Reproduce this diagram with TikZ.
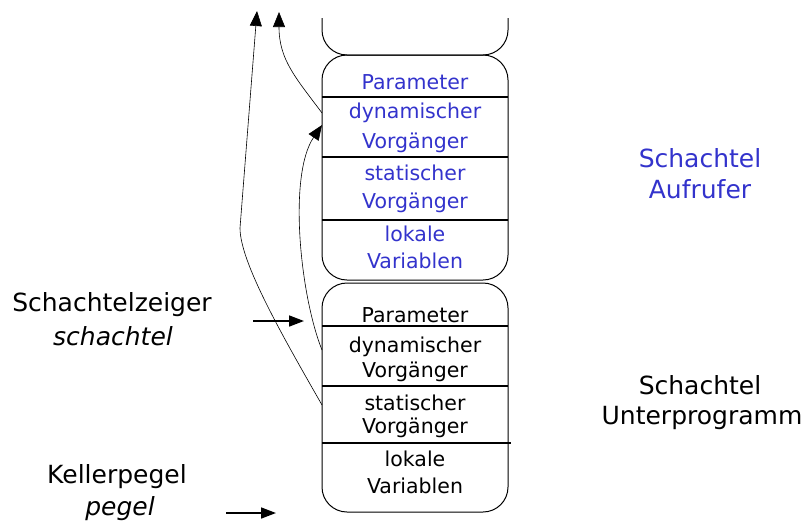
\documentclass[tikz,border=0pt]{standalone}
\usepackage{fontspec}
\setmainfont{DejaVu Sans}
\usetikzlibrary{arrows.meta}
\definecolor{cblue}{RGB}{51,51,204}
\begin{document}
\begin{tikzpicture}[x=1pt,y=-1pt,
  frame/.style={draw, line width=1pt, rounded corners=25pt, minimum width=186pt, inner sep=0pt},
  sep/.style={line width=1.8pt},
  lbl/.style={font=\fontsize{20.5}{24}\selectfont, inner sep=0pt},
  side/.style={font=\fontsize{25}{29}\selectfont, inner sep=0pt},
  arr/.style={-{Triangle[length=15pt,width=12pt]}, line width=0.6pt},
  harr/.style={-{Triangle[length=15pt,width=11pt]}, line width=1.6pt}
]
\useasboundingbox (0,0) rectangle (805,523);
% partial frame above
\draw[line width=1pt, rounded corners=25pt] (322,18) -- (322,55) -- (508,55) -- (508,18);
% upper frame (caller)
\node[frame, minimum height=225pt] (upper) at (415,167.5) {};
\draw[sep] (322,97) -- (508,97);
\draw[sep] (322,157) -- (508,157);
\draw[sep] (322,220) -- (508,220);
\node[lbl, text=cblue] (uparam) at (415,82) {Parameter};
\node[lbl, text=cblue] (udyn1) at (415,113) {dynamischer};
\node[lbl, text=cblue] (udyn2) at (415,143) {Vorgänger};
\node[lbl, text=cblue] (ustat1) at (415,173) {statischer};
\node[lbl, text=cblue] (ustat2) at (415,203) {Vorgänger};
\node[lbl, text=cblue] (ulok1) at (415,234) {lokale};
\node[lbl, text=cblue] (ulok2) at (415,261) {Variablen};
% lower frame (subprogram)
\node[frame, minimum height=229pt] (lower) at (415,397.5) {};
\draw[sep] (322,326) -- (508,326);
\draw[sep] (322,386) -- (508,386);
\draw[sep] (322,443) -- (511,443);
\node[lbl] (lparam) at (415,315) {Parameter};
\node[lbl] (ldyn1) at (415,347) {dynamischer};
\node[lbl] (ldyn2) at (415,372) {Vorgänger};
\node[lbl] (lstat1) at (415,403) {statischer};
\node[lbl] (lstat2) at (415,428) {Vorgänger};
\node[lbl] (llok1) at (415,459) {lokale};
\node[lbl] (llok2) at (415,486) {Variablen};
% side labels
\node[side] (sz) at (112,305) {Schachtelzeiger};
\node[side] (szi) at (113,336) {\itshape schachtel};
\node[side] (kp) at (117,477) {Kellerpegel};
\node[side] (kpi) at (120,509) {\itshape pegel};
\node[side, text=cblue] (sa1) at (700,158) {Schachtel};
\node[side, text=cblue] (sa2) at (700,189) {Aufrufer};
\node[side] (su1) at (700,385) {Schachtel};
\node[side] (su2) at (702,418) {Unterprogramm};
% pointer coordinates
\coordinate (ldynL) at (322,350);
\coordinate (lstatL) at (322,405);
\coordinate (udynL) at (322,113);
\coordinate (udynT) at (322,125);
\coordinate (top1) at (257,11);
\coordinate (top2) at (279,12);
\coordinate (szs) at (253,321);
\coordinate (sze) at (304,321);
\coordinate (kps) at (226,513);
\coordinate (kpe) at (276,513);
% links
\draw[arr] (ldynL) .. controls (300,295) and (288,175) .. (udynT);
\draw[arr] (lstatL) .. controls (282,335) and (240,262) .. (240,228) -- (top1);
\draw[arr] (udynL) .. controls (296,78) and (279,60) .. (top2);
\draw[harr] (szs) -- (sze);
\draw[harr] (kps) -- (kpe);
\end{tikzpicture}
\end{document}
